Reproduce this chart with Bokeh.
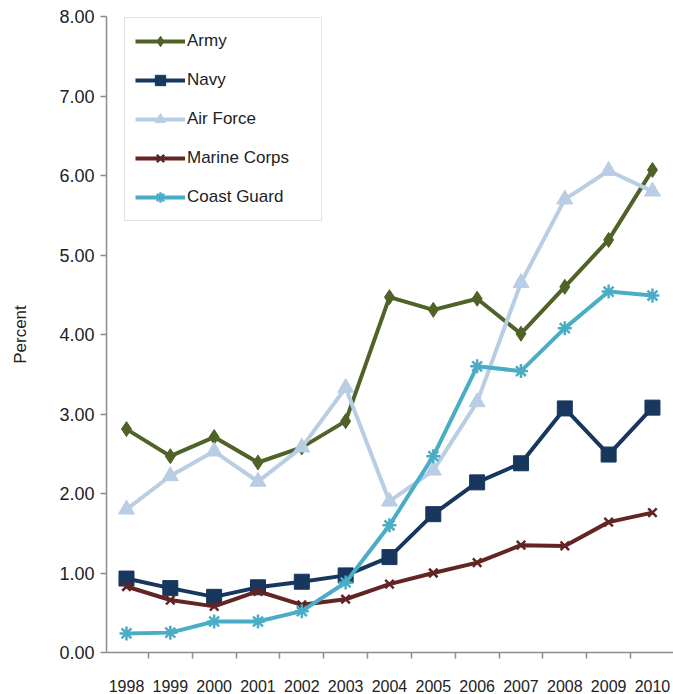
from bokeh.plotting import figure
from bokeh.models import Legend, LegendItem, FixedTicker, Range1d, NumeralTickFormatter
from bokeh.embed import file_html
from bokeh.resources import INLINE

years = [1998, 1999, 2000, 2001, 2002, 2003, 2004, 2005, 2006, 2007, 2008, 2009, 2010]
army = [2.81, 2.47, 2.71, 2.39, 2.58, 2.91, 4.47, 4.31, 4.45, 4.01, 4.60, 5.19, 6.07]
navy = [0.93, 0.81, 0.70, 0.82, 0.89, 0.97, 1.20, 1.74, 2.14, 2.38, 3.07, 2.49, 3.08]
air_force = [1.80, 2.22, 2.53, 2.15, 2.58, 3.33, 1.90, 2.29, 3.15, 4.65, 5.70, 6.06, 5.80]
marine_corps = [0.83, 0.66, 0.58, 0.77, 0.60, 0.67, 0.86, 1.00, 1.13, 1.35, 1.34, 1.64, 1.76]
coast_guard = [0.24, 0.25, 0.39, 0.39, 0.52, 0.88, 1.60, 2.47, 3.60, 3.54, 4.08, 4.54, 4.49]
y_ticks = [0, 1, 2, 3, 4, 5, 6, 7, 8]

FONT = "Liberation Sans"
AXIS_COLOR = "#8c8c8c"

p = figure(width=673, height=694, output_backend="svg", toolbar_location=None,
           x_range=Range1d(1997.544, 2010.48), y_range=Range1d(0, 8),
           min_border_left=106, min_border_right=0, min_border_top=16, min_border_bottom=40)
p.outline_line_color = None
p.xgrid.visible = False
p.ygrid.visible = False

# y axis
p.yaxis.ticker = FixedTicker(ticks=y_ticks, minor_ticks=[])
p.yaxis.formatter = NumeralTickFormatter(format="0.00")
p.yaxis.axis_line_color = AXIS_COLOR
p.yaxis.axis_line_width = 1.5
p.yaxis.major_tick_line_color = AXIS_COLOR
p.yaxis.major_tick_line_width = 1.5
p.yaxis.major_tick_in = 0
p.yaxis.major_tick_out = 6
p.yaxis.major_label_text_font = FONT
p.yaxis.major_label_text_font_size = "18px"
p.yaxis.major_label_text_color = "#222222"
p.yaxis.major_label_standoff = 6
p.yaxis.axis_label = "Percent"
p.yaxis.axis_label_text_font = FONT
p.yaxis.axis_label_text_font_size = "17px"
p.yaxis.axis_label_text_font_style = "normal"
p.yaxis.axis_label_text_color = "#222222"
p.yaxis.axis_label_standoff = 26

# x axis: labels at years, tick marks at boundaries
p.xaxis.ticker = FixedTicker(ticks=years, minor_ticks=[y + 0.5 for y in years[:-1]])
p.xaxis.major_label_overrides = {y: str(y) for y in years}
p.xaxis.axis_line_color = AXIS_COLOR
p.xaxis.axis_line_width = 1.5
p.xaxis.major_tick_in = 0
p.xaxis.major_tick_out = 0
p.xaxis.minor_tick_line_color = AXIS_COLOR
p.xaxis.minor_tick_line_width = 1.5
p.xaxis.minor_tick_in = 0
p.xaxis.minor_tick_out = 6
p.xaxis.major_label_text_font = FONT
p.xaxis.major_label_text_font_size = "16px"
p.xaxis.major_label_text_color = "#222222"
p.xaxis.major_label_standoff = 21

series = [
    ("Army", army, "#4F6228", "diamond", 15),
    ("Navy", navy, "#17375E", "square", 15),
    ("Air Force", air_force, "#B9CDE5", "triangle", 16),
    ("Marine Corps", marine_corps, "#632523", "x", 12),
    ("Coast Guard", coast_guard, "#4BACC6", "asterisk", 14),
]

items = []
for name, vals, color, marker, size in series:
    ln = p.line(years, vals, line_color=color, line_width=4)
    sc = p.scatter(years, vals, marker=marker, size=size, fill_color=color,
                   line_color=color, line_width=2.5 if marker in ("x", "asterisk") else 1)
    items.append(LegendItem(label=name, renderers=[ln, sc]))

legend = Legend(items=items, location=(18, 431))
legend.glyph_width = 50
legend.glyph_height = 26
legend.label_height = 20
legend.label_width = 124
legend.spacing = 13
legend.padding = 10
legend.margin = 0
legend.label_standoff = 2
legend.label_text_font = FONT
legend.label_text_font_size = "17px"
legend.label_text_color = "#222222"
legend.border_line_color = "#c8c8c8"
legend.border_line_width = 1.5
legend.background_fill_alpha = 1
p.add_layout(legend, "center")

open("out.html", "w").write(file_html(p, INLINE))
